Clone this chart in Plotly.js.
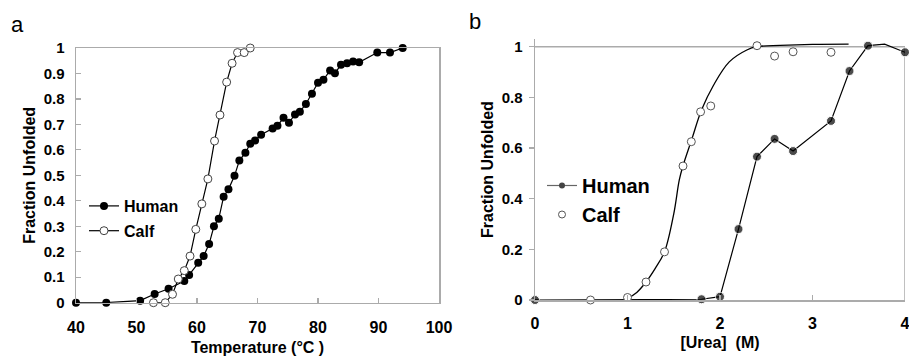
<!DOCTYPE html>
<html>
<head>
<meta charset="utf-8">
<script src="https://cdn.plot.ly/plotly-3.0.1.min.js"></script>
<style>html,body{margin:0;padding:0;background:#fff;}#chart{width:909px;height:360px;}</style>
</head>
<body>
<div id="chart"></div>
<script>
// ---- Panel a: thermal unfolding ----
const humanTempA = [40,45,50.6,53,55.3,57.9,58.7,60.2,61.1,62,62.8,63.6,64.4,65.2,66.2,67,68,68.8,69.6,70.6,72.5,73.3,74.3,75.2,76.2,77,78,79,80,80.9,82,82.8,83.8,84.8,85.8,86.8,89.8,91.9,94];
const humanFracA = [0,0,0.008,0.034,0.055,0.085,0.109,0.157,0.183,0.23,0.30,0.33,0.416,0.445,0.498,0.558,0.589,0.624,0.637,0.659,0.684,0.695,0.726,0.707,0.739,0.75,0.78,0.82,0.864,0.875,0.912,0.901,0.934,0.94,0.947,0.944,0.982,0.982,1.0];
const calfTempA = [52.8,54.75,55.95,56.9,57.9,58.85,59.8,60.8,61.8,62.9,63.8,64.9,65.8,66.7,67.8,68.8];
const calfFracA = [0,0,0.033,0.093,0.126,0.183,0.288,0.388,0.486,0.635,0.737,0.866,0.94,0.982,0.982,1.0];
const tempTicks = [40,50,60,70,80,90,100];
const fracTicksA = [0,0.1,0.2,0.3,0.4,0.5,0.6,0.7,0.8,0.9,1];

// ---- Panel b: urea unfolding ----
const humanUrea = [0,1.8,2.0,2.2,2.4,2.59,2.79,3.2,3.4,3.6,3.78,4.0];
const humanFracB = [0,0.003,0.013,0.28,0.566,0.636,0.588,0.707,0.904,1.004,1.01,0.978];
const humanMarkerShown = [1,1,1,1,1,1,1,1,1,1,0,1];
const calfUrea = [0.6,1.0,1.2,1.4,1.6,1.69,1.79,1.9,2.4,2.59,2.79,3.2];
const calfFracB = [0,0.01,0.071,0.19,0.529,0.625,0.743,0.766,1.004,0.963,0.98,0.978];
const calfFitUrea = [0,0.3,0.5,0.75,0.9,1.0,1.1,1.2,1.3,1.4,1.5,1.56,1.6,1.7,1.8,1.93,2.1,2.29,2.4,2.65,3.0,3.39];
const calfFitFrac = [0,-0.012,-0.015,-0.015,-0.006,0.007,0.03,0.071,0.125,0.19,0.34,0.474,0.53,0.64,0.75,0.848,0.94,0.987,1.0,1.005,1.009,1.01];
const ureaTicks = [0,1,2,3,4];
const fracTicksB = [0,0.2,0.4,0.6,0.8,1];

const FONT = "Arial, 'Liberation Sans', sans-serif";
const AXC = '#ababab';

const traces = [
  {x: humanTempA, y: humanFracA, xaxis:'x', yaxis:'y', name:'Human', mode:'lines+markers',
   line:{color:'#000', width:1.2}, marker:{symbol:'circle', size:8, color:'#000'},
   cliponaxis:false, legend:'legend', legendgroup:'ha'},
  {x: calfTempA, y: calfFracA, xaxis:'x', yaxis:'y', name:'Calf', mode:'lines+markers',
   line:{color:'#000', width:1.2}, marker:{symbol:'circle', size:8, color:'#fff', line:{color:'#444', width:1}},
   cliponaxis:false, legend:'legend', legendgroup:'ca'},
  {x: calfFitUrea, y: calfFitFrac, xaxis:'x2', yaxis:'y2', mode:'lines', showlegend:false,
   line:{color:'#000', width:1.3, shape:'spline', smoothing:1}},
  {x: humanUrea, y: humanFracB, xaxis:'x2', yaxis:'y2', mode:'lines+markers', showlegend:false,
   line:{color:'#000', width:1.2},
   marker:{symbol:'circle', size: humanMarkerShown.map(v => v ? 9 : 0), color:'#000'}, cliponaxis:false},
  {x: calfUrea, y: calfFracB, xaxis:'x2', yaxis:'y2', mode:'markers', showlegend:false,
   marker:{symbol:'circle', size:8, color:'#fff', line:{color:'#555', width:1}}, cliponaxis:false},
  // legend entries for panel b
  {x:[null], y:[null], xaxis:'x2', yaxis:'y2', name:'Human', mode:'lines+markers', legend:'legend2', legendgroup:'hb',
   line:{color:'#666', width:1.2}, marker:{symbol:'circle', size:6, color:'#444'}},
  {x:[null], y:[null], xaxis:'x2', yaxis:'y2', name:'Calf', mode:'markers', legend:'legend2', legendgroup:'cb',
   marker:{symbol:'circle', size:7, color:'#fff', line:{color:'#555', width:1}}}
];

const tickfontY = {family: FONT, size: 15, color: '#000', weight: 'bold'};
const tickfontX = {family: FONT, size: 16, color: '#000', weight: 'bold'};
const titlefont = {family: FONT, size: 16, color: '#000', weight: 'bold'};

const layout = {
  width: 909, height: 360,
  margin: {l:0, r:0, t:0, b:0},
  paper_bgcolor: '#fff', plot_bgcolor: '#fff',
  font: {family: FONT, color:'#000'},
  xaxis: {domain:[76/909, 439/909], anchor:'y', range:[40,100], tickvals: tempTicks,
    showgrid:false, zeroline:false, showline:true, linecolor:AXC, linewidth:1.5, mirror:true,
    ticks:'inside', ticklen:5, tickcolor:AXC, tickwidth:1.2, tickfont: tickfontX,
    ticklabelstandoff: 10, ticklabeloverflow:'allow',
    title:{text:'Temperature (°C )', font:titlefont, standoff:6}},
  yaxis: {domain:[(360-302.7)/360, (360-48)/360], anchor:'x', range:[0,1], tickvals: fracTicksA,
    showgrid:false, zeroline:false, showline:true, linecolor:AXC, linewidth:1.5, mirror:true,
    ticks:'inside', ticklen:5, tickcolor:AXC, tickwidth:1.2, tickfont: tickfontY,
    ticklabelstandoff: 7, ticklabeloverflow:'allow',
    title:{text:'Fraction Unfolded', font:titlefont, standoff:4}},
  xaxis2: {domain:[535/909, 905/909], anchor:'y2', range:[0,4], tickvals: ureaTicks,
    showgrid:false, zeroline:false, showline:true, linecolor:AXC, linewidth:1.5,
    ticks:'inside', ticklen:5, tickcolor:AXC, tickwidth:1.2, tickfont: tickfontX,
    ticklabelstandoff: 8, ticklabeloverflow:'allow',
    title:{text:'[Urea]  (M)', font:titlefont, standoff:6}},
  yaxis2: {domain:[60/360, (360-300+1.03*253.3)/360], anchor:'x2', range:[0,1.03], tickvals: fracTicksB,
    showgrid:false, zeroline:false, showline:true, linecolor:AXC, linewidth:1.5,
    ticks:'outside', ticklen:5, tickcolor:AXC, tickwidth:1.2, tickfont: tickfontY,
    ticklabelstandoff: 3, ticklabeloverflow:'allow',
    title:{text:'Fraction Unfolded', font:titlefont, standoff:4}},
  shapes: [
    {type:'line', xref:'x2', yref:'y2', x0:0, x1:4, y0:1, y1:1, line:{color:AXC, width:1.5}, layer:'below'},
    {type:'line', xref:'x2', yref:'y2', x0:4, x1:4, y0:0, y1:1, line:{color:AXC, width:1.5}, layer:'below'}
  ],
  legend: {x: 84/909, y: 1-189/360, xanchor:'left', yanchor:'top', bgcolor:'rgba(0,0,0,0)',
    font:{family:FONT, size:16, color:'#000', weight:'bold'}, itemwidth:30, tracegroupgap:1, traceorder:'grouped'},
  legend2: {x: 542/909, y: 1-166/360, xanchor:'left', yanchor:'top', bgcolor:'rgba(0,0,0,0)',
    font:{family:FONT, size:20, color:'#000', weight:'bold'}, itemwidth:30, tracegroupgap:0, traceorder:'grouped'},
  annotations: [
    {text:'a', xref:'paper', yref:'paper', x:17/909, y:1-25/360, xanchor:'center', yanchor:'middle', showarrow:false,
     font:{family:FONT, size:22, color:'#000'}},
    {text:'b', xref:'paper', yref:'paper', x:475/909, y:1-21/360, xanchor:'center', yanchor:'middle', showarrow:false,
     font:{family:FONT, size:22, color:'#000'}}
  ]
};

Plotly.newPlot('chart', traces, layout, {staticPlot:true, displayModeBar:false});
</script>
</body>
</html>
